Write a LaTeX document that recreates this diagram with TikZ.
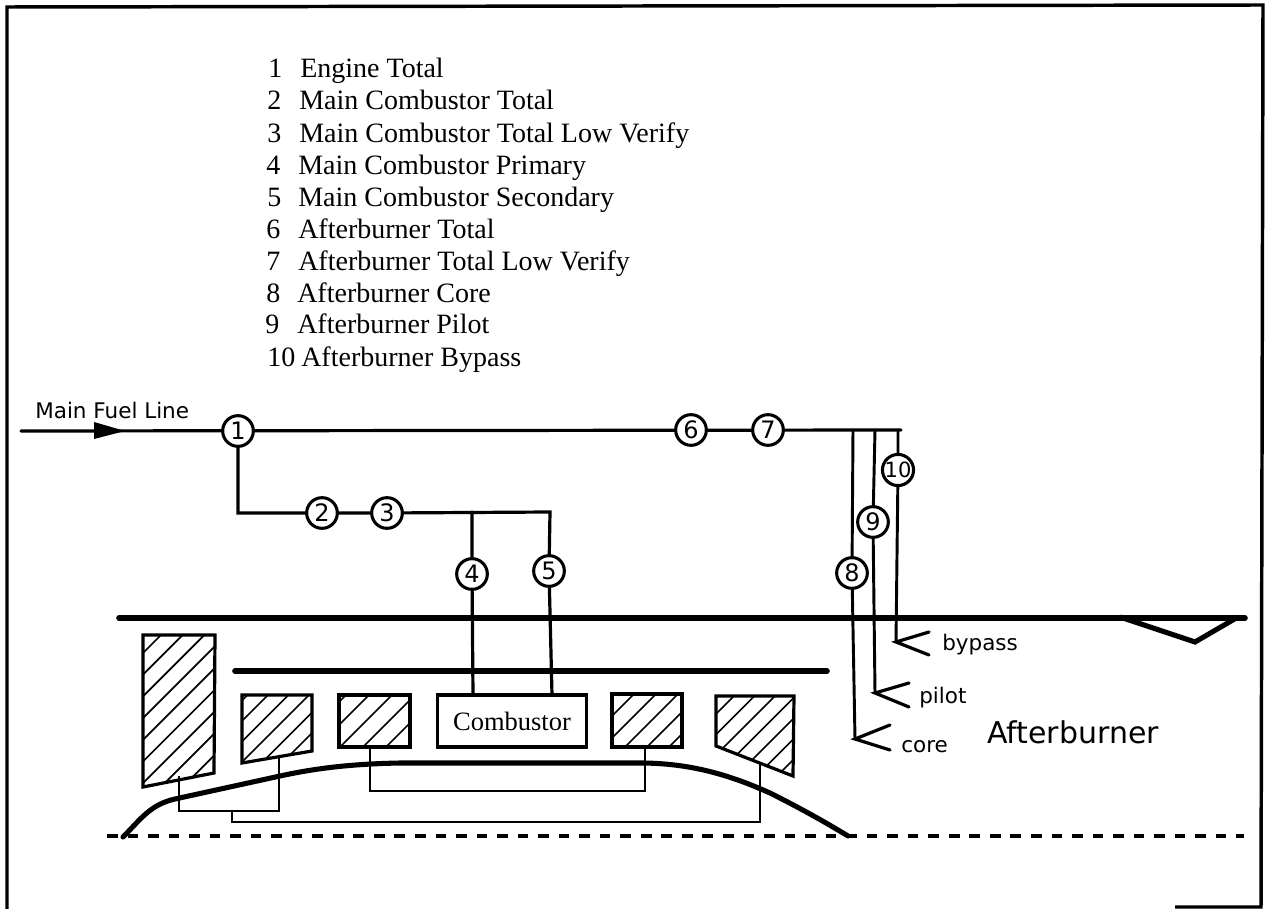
\documentclass[tikz,border=0pt]{standalone}
\usepackage{fontspec}
\setmainfont{Liberation Serif}
\newfontfamily\geneva{DejaVu Sans}
\newcommand{\pxfont}[1]{\fontsize{\dimexpr #1pt*3/4\relax}{\dimexpr #1pt*9/10\relax}\selectfont}
\tikzset{
  thin line/.style={line width=2.2pt,line join=miter},
  heavy line/.style={line width=4.2pt,line cap=round},
  hub line/.style={line width=3.8pt,line cap=round},
  med line/.style={line width=2.4pt,line cap=round,line join=miter},
  hatch line/.style={line width=1.3pt},
  block/.style={line width=2.4pt,line join=miter},
  station/.style={circle,draw,fill=white,line width=2.3pt,minimum size=23pt,inner sep=0pt,font=\geneva\pxfont{24}},
  listnum/.style={anchor=base west,inner sep=0pt,font=\pxfont{28}},
  listtext/.style={anchor=base west,inner sep=0pt,font=\pxfont{28}},
  smalllabel/.style={anchor=base west,inner sep=0pt,font=\geneva\pxfont{21.5}},
  biglabel/.style={anchor=base west,inner sep=0pt,font=\geneva\pxfont{30}},
  combbox/.style={draw,line width=2.4pt,fill=white,inner sep=0pt,minimum width=112pt,minimum height=39pt,font=\pxfont{26.5}}
}
\begin{document}
\begin{tikzpicture}[x=0.75pt,y=-0.75pt]
\useasboundingbox (0,0) rectangle (1268,909);
\fill[white] (0,0) rectangle (1268,909);
% frame
\draw[line width=2.6pt] (7,909) -- (7,7) -- (1263,5) -- (1261,907) -- (1175,907);
% list
\foreach \n/\y/\t/\xx/\xt in {1/78/Engine Total/268/300,2/110/Main Combustor Total/267/299,3/143/Main Combustor Total Low Verify/267/299,4/175/Main Combustor Primary/266/298,5/207/Main Combustor Secondary/267/298,6/239/Afterburner Total/266/298,7/271/Afterburner Total Low Verify/266/298,8/303/Afterburner Core/266/297,9/334/Afterburner Pilot/265/297,10/367/Afterburner Bypass/267/301}{
  \node[listnum] (n\n) at (\xx,\y) {\n};
  \node[listtext] (t\n) at (\xt,\y) {\t};
}
% hatched blocks
\foreach \pts/\start/\stepw/\cnt in {
  {(143,635) -- (215,635) -- (214,773) -- (143,787) -- cycle}/774.3/21.7/11,
  {(242,695) -- (312,695) -- (312,751) -- (242,763) -- cycle}/942.5/20.5/9,
  {(339,695) -- (410,695) -- (410,747) -- (339,747) -- cycle}/1041/23/7,
  {(612,694) -- (682,694) -- (682,747) -- (612,747) -- cycle}/1306/22/8,
  {(716,696) -- (794,696) -- (793,776) -- (716,746) -- cycle}/1409.5/20.5/10}{
  \begin{scope}
    \clip \pts;
    \foreach \i in {0,...,\cnt}{
      \pgfmathsetmacro{\c}{\start+\i*\stepw}
      \draw[hatch line] ({\c-600},600) -- ({\c-800},800);
    }
  \end{scope}
  \draw[block] \pts;
}
% thick horizontals
\draw[heavy line] (119,618) -- (1245,618);
\draw[heavy line] (235,671) -- (827,671);
\draw[hub line] (123,837) .. controls (140,820) and (150,804.5) .. (175,799) -- (280,776) .. controls (310,769.5) and (345,764) .. (400,763) -- (640,763) .. controls (690,763) and (730,775) .. (770,793) .. controls (800,808) and (825,822) .. (848,836);
\draw[line width=2.3pt,dash pattern=on 8pt off 7.4pt] (107,836) -- (1244,836);
\draw[line width=3.8pt,line join=miter] (1120,617) -- (1195,642) -- (1238,617);
% rotor connectors
\coordinate (a1) at (179,776);
\coordinate (a2) at (279,758);
\coordinate (a3) at (232,811);
\coordinate (a4) at (760,763);
\coordinate (c1) at (370,747);
\coordinate (c2) at (645,747);
\draw[thin line] (a1) |- (a3) -| (a2);
\draw[thin line] (a3) |- (a4 |- 0,822) -- (a4);
\draw[thin line] (c1) |- (c2 |- 0,791) -- (c2);
% combustor
\node[combbox] (comb) at (512,721) {};
\node[inner sep=0pt,anchor=base,font=\pxfont{26.5}] (combt) at (512,730) {Combustor};
% stations
\coordinate (start) at (21,431);
\coordinate (mainend) at (901,430);
\coordinate (j2) at (238,513);
\coordinate (j4) at (472,512);
\coordinate (j5) at (550,512);
\coordinate (j8) at (853,430);
\coordinate (j9) at (875,430);
\coordinate (j10) at (898,430);
\coordinate (v8) at (855,739);
\coordinate (v9) at (875,693);
\coordinate (v10) at (896,642);
\coordinate (b4) at (473,695);
\coordinate (b5) at (552,695);
\draw[med line] (start) -- (mainend);
\draw[med line] (238,431) -- (j2) -- (387,513) -- (j5) -- (549,571) -- (b5);
\draw[med line] (j4) -- (472,574) -- (b4);
\draw[thin line] (j8) -- (852,573) -- (v8);
\draw[thin line] (j9) -- (873,522) -- (v9);
\draw[thin line] (j10) -- (898,470) -- (v10);
\foreach \n/\x/\y in {1/238/431,2/322/513,3/387/513,4/472/574,5/549/571,6/691/430,7/768/430,8/852/573,9/873/522}{
  \node[station] (s\n) at (\x,\y) {\n};
}
\node[station,font=\geneva\pxfont{21}] (s10) at (898,470) {10};
% arrowhead
\fill (94,422) -- (125,431) -- (94,439) -- cycle;
% forks
\coordinate (f8a) at (890,725); \coordinate (f8b) at (890,750);
\coordinate (f9a) at (909,683); \coordinate (f9b) at (909,707);
\coordinate (f10a) at (929,632); \coordinate (f10b) at (929,655);
\draw[med line] (f8a) -- (v8) -- (f8b);
\draw[med line] (f9a) -- (v9) -- (f9b);
\draw[med line] (f10a) -- (v10) -- (f10b);
% labels
\node[smalllabel] (mfl) at (35,418) {Main Fuel Line};
\node[smalllabel] (lb) at (942,650) {bypass};
\node[smalllabel] (lp) at (919,703) {pilot};
\node[smalllabel] (lc) at (901,752) {core};
\node[biglabel] (ab) at (987,743) {Afterburner};
\end{tikzpicture}
\end{document}
